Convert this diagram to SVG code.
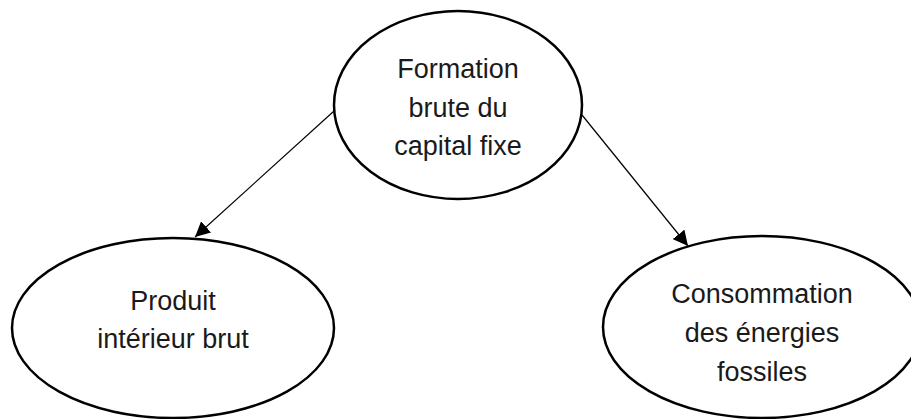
<svg xmlns="http://www.w3.org/2000/svg" width="911" height="419" viewBox="0 0 911 419">
<style>
.node ellipse{fill:#fff;stroke:#000;stroke-width:2.5}
.node text{font-family:"Liberation Sans",Arial,sans-serif;font-size:27px;fill:#1a1a1a;text-anchor:middle}
.edge{stroke:#000;stroke-width:1.2;fill:none;marker-end:url(#arrow)}
</style>
<defs>
<marker id="arrow" viewBox="0 0 15 15" refX="15" refY="7.5" markerWidth="15" markerHeight="15" markerUnits="userSpaceOnUse" orient="auto">
<path d="M0,0 L15,7.5 L0,15 Z" fill="#000"/>
</marker>
</defs>
<rect width="911" height="419" fill="#fff"/>
<g id="connectors">
<line class="edge" x1="334" y1="111" x2="195" y2="237"/>
<line class="edge" x1="582" y1="115" x2="688" y2="246"/>
</g>
<g id="node-fbcf" class="node">
<ellipse cx="458" cy="105" rx="124" ry="94"/>
<text x="458" y="78">Formation</text>
<text x="458" y="117">brute du</text>
<text x="458" y="155">capital fixe</text>
</g>
<g id="node-pib" class="node">
<ellipse cx="173" cy="328" rx="161" ry="90"/>
<text x="173" y="310">Produit</text>
<text x="173" y="348">intérieur brut</text>
</g>
<g id="node-energie" class="node">
<ellipse cx="762" cy="327" rx="159" ry="91"/>
<text x="762" y="303">Consommation</text>
<text x="762" y="342">des énergies</text>
<text x="762" y="381">fossiles</text>
</g>
</svg>
